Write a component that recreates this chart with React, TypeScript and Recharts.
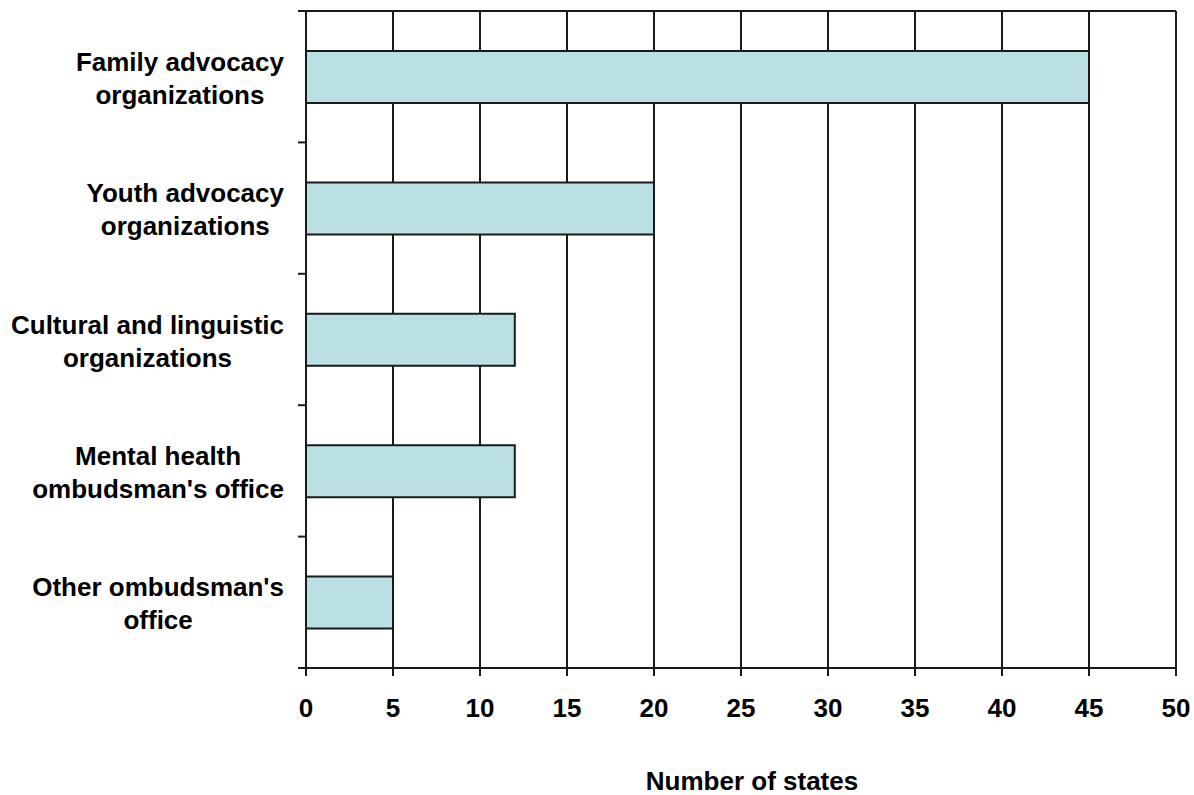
import { BarChart, Bar, XAxis, YAxis, CartesianGrid } from "recharts";

const categories = [
  "Family advocacy organizations",
  "Youth advocacy organizations",
  "Cultural and linguistic organizations",
  "Mental health ombudsman's office",
  "Other ombudsman's office",
];
const categoryLines = [
  ["Family advocacy", "organizations"],
  ["Youth advocacy", "organizations"],
  ["Cultural and linguistic", "organizations"],
  ["Mental health", "ombudsman's office"],
  ["Other ombudsman's", "office"],
];
const states = [45, 20, 12, 12, 5];
const xTicks = [0, 5, 10, 15, 20, 25, 30, 35, 40, 45, 50];

const data = categories.map((name, i) => ({ name, value: states[i] }));

const W = 1194;
const H = 795;
const margin = { top: 11, right: 18, bottom: 0, left: 0 };
const yAxisWidth = 306;
const xAxisHeight = 127;
const band = (H - margin.top - xAxisHeight) / categories.length;
const FONT = "bold 26px 'Liberation Sans', Arial, sans-serif";
const INK = "#1a1a1a";

let ctx: CanvasRenderingContext2D | null = null;
function textWidth(s: string) {
  if (!ctx) {
    ctx = document.createElement("canvas").getContext("2d");
  }
  if (!ctx) return s.length * 14;
  ctx.font = FONT;
  return ctx.measureText(s).width;
}

function YTick({ y, index }: any) {
  const lines = categoryLines[index] || [];
  const maxW = Math.max(...lines.map(textWidth));
  const cx = 284 - maxW / 2;
  const axisX = yAxisWidth;
  return (
    <g>
      {index === 0 && (
        <line x1={axisX - 8} x2={W - margin.right} y1={y - band / 2} y2={y - band / 2} stroke={INK} strokeWidth={2} />
      )}
      <line x1={axisX - 8} x2={axisX} y1={y + band / 2} y2={y + band / 2} stroke={INK} strokeWidth={2} />
      {lines.map((l, i) => (
        <text key={i} x={cx} y={y - 6 + i * 33} textAnchor="middle" style={{ font: FONT }} fill="#000">
          {l}
        </text>
      ))}
    </g>
  );
}

function XTick({ x, y, payload }: any) {
  return (
    <text x={x} y={y + 39} textAnchor="middle" style={{ font: FONT }} fill="#000">
      {payload.value}
    </text>
  );
}

export default function App() {
  return (
    <div style={{ position: "absolute", left: 0, top: 0, width: W, height: H, background: "#fff" }}>
      <BarChart width={W} height={H} data={data} layout="vertical" margin={margin}>
        <CartesianGrid horizontal={false} stroke={INK} strokeWidth={2} />
        <XAxis
          type="number"
          domain={[0, 50]}
          ticks={xTicks}
          interval={0}
          height={xAxisHeight}
          tickSize={8}
          axisLine={{ stroke: INK, strokeWidth: 2 }}
          tickLine={{ stroke: INK, strokeWidth: 2 }}
          tick={<XTick />}
          label={{
            value: "Number of states",
            position: "insideBottom",
            offset: 5,
            dx: 11,
            style: { font: FONT, fill: "#000" },
          }}
        />
        <YAxis
          type="category"
          dataKey="name"
          width={yAxisWidth}
          interval={0}
          tickLine={false}
          axisLine={{ stroke: INK, strokeWidth: 2 }}
          tick={<YTick />}
        />
        <Bar dataKey="value" fill="#BBE0E3" stroke={INK} strokeWidth={2} barSize={52} isAnimationActive={false} />
      </BarChart>
    </div>
  );
}
